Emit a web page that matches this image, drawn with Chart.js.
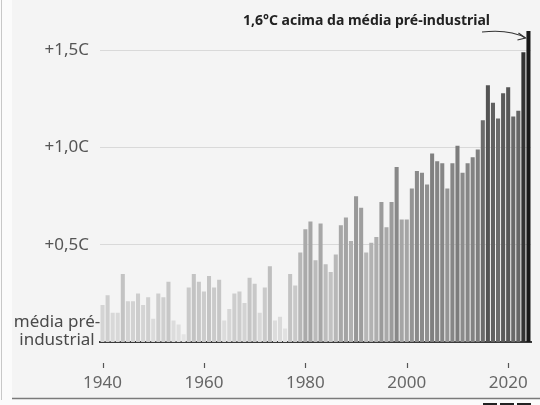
<!DOCTYPE html>
<html>
<head>
<meta charset="utf-8">
<script src="https://cdn.jsdelivr.net/npm/chart.js@4"></script>
<style>
  html, body { margin: 0; padding: 0; background: #fbfbfb; }
  canvas { display: block; }
</style>
</head>
<body>
<canvas id="tempChart" width="540" height="405"></canvas>
<script>
// =================== DATA ===================

const firstYear = 1940;
const lastYear = 2024;
const years = [];
for (let y = firstYear; y <= lastYear; y++) years.push(String(y));

// annual anomaly vs pre-industrial average (°C)
const anomalies = [
  0.19, 0.24, 0.15, 0.15, 0.35, 0.21, 0.21, 0.25, 0.19, 0.23, // 1940s
  0.12, 0.25, 0.23, 0.31, 0.11, 0.09, 0.04, 0.28, 0.35, 0.31, // 1950s
  0.26, 0.34, 0.28, 0.32, 0.11, 0.17, 0.25, 0.26, 0.20, 0.33, // 1960s
  0.30, 0.15, 0.28, 0.39, 0.11, 0.13, 0.07, 0.35, 0.29, 0.46, // 1970s
  0.58, 0.62, 0.42, 0.61, 0.40, 0.36, 0.45, 0.60, 0.64, 0.52, // 1980s
  0.75, 0.69, 0.46, 0.51, 0.54, 0.72, 0.59, 0.72, 0.90, 0.63, // 1990s
  0.63, 0.79, 0.88, 0.87, 0.81, 0.97, 0.93, 0.92, 0.79, 0.92, // 2000s
  1.01, 0.87, 0.92, 0.95, 0.99, 1.14, 1.32, 1.23, 1.15, 1.28, // 2010s
  1.31, 1.16, 1.19, 1.49, 1.60                                 // 2020s
];

const xTickLabels = ['1940', '1960', '1980', '2000', '2020'];
const yTickValues = [0.5, 1.0, 1.5];
const yTickLabels = ['+0,5C', '+1,0C', '+1,5C'];
const baselineLabel = ['média pré-', 'industrial'];
const annotationText = '1,6°C acima da média pré-industrial';

// =================== STYLE HELPERS ===================

// darker grey for warmer years
const greyStops = [[0, 232], [0.6, 168], [1.0, 125], [1.3, 88], [1.5, 50], [1.6, 25]];
function greyFor(v) {
  let g = greyStops[0][1];
  for (let i = 1; i < greyStops.length; i++) {
    const [v0, g0] = greyStops[i - 1];
    const [v1, g1] = greyStops[i];
    if (v >= v0) g = v >= v1 ? g1 : g0 + (g1 - g0) * (v - v0) / (v1 - v0);
  }
  g = Math.round(g);
  return `rgb(${g},${g},${g})`;
}

const FONT = '"Noto Sans", sans-serif';

// background panel, frame lines and logo blocks
const framePlugin = {
  id: 'frame',
  beforeDraw(chart) {
    const ctx = chart.ctx;
    ctx.save();
    ctx.fillStyle = '#f4f4f4';
    ctx.fillRect(12, 0, 528, 398);
    ctx.strokeStyle = '#c8c8c8';
    ctx.lineWidth = 1;
    ctx.beginPath();
    ctx.moveTo(1.5, 0);
    ctx.lineTo(1.5, 400);
    ctx.stroke();
    ctx.strokeStyle = '#7a7a7a';
    ctx.lineWidth = 1.5;
    ctx.beginPath();
    ctx.moveTo(12, 398.5);
    ctx.lineTo(540, 398.5);
    ctx.stroke();
    ctx.fillStyle = '#222';
    [483, 500, 517].forEach(x => ctx.fillRect(x, 403, 14, 2));
    ctx.restore();
  }
};

// tick marks, baseline caption, annotation with arrow
const extrasPlugin = {
  id: 'extras',
  afterDraw(chart) {
    const ctx = chart.ctx;
    const xs = chart.scales.x;
    const ys = chart.scales.y;
    ctx.save();

    ctx.strokeStyle = '#555';
    ctx.lineWidth = 1.2;
    xTickLabels.forEach(lbl => {
      const px = Math.round(xs.getPixelForValue(years.indexOf(lbl))) + 0.5;
      ctx.beginPath();
      ctx.moveTo(px, 363);
      ctx.lineTo(px, 368);
      ctx.stroke();
    });

    const y0 = ys.getPixelForValue(0);
    ctx.fillStyle = '#4a4a4a';
    ctx.font = '17px ' + FONT;
    ctx.textAlign = 'center';
    ctx.textBaseline = 'alphabetic';
    ctx.fillText(baselineLabel[0], 57, y0 - 15);
    ctx.fillText(baselineLabel[1], 57, y0 + 3);

    ctx.fillStyle = '#222';
    ctx.font = 'bold 14px ' + FONT;
    ctx.textAlign = 'left';
    ctx.fillText(annotationText, 243, 25);

    const last = anomalies.length - 1;
    const tipX = xs.getPixelForValue(last) - 3;
    const tipY = 38;
    ctx.strokeStyle = '#333';
    ctx.lineWidth = 1.2;
    ctx.beginPath();
    ctx.moveTo(482, 32);
    ctx.quadraticCurveTo(510, 29, tipX, tipY);
    ctx.stroke();
    ctx.beginPath();
    ctx.moveTo(tipX - 7, tipY - 5);
    ctx.lineTo(tipX, tipY);
    ctx.lineTo(tipX - 8, tipY + 2);
    ctx.stroke();
    ctx.restore();
  }
};

// =================== CHART ===================

new Chart(document.getElementById('tempChart'), {
  type: 'bar',
  data: {
    labels: years,
    datasets: [{
      data: anomalies,
      backgroundColor: anomalies.map(greyFor),
      borderWidth: 0,
      barPercentage: 0.8,
      categoryPercentage: 1.0
    }]
  },
  options: {
    responsive: false,
    animation: false,
    layout: { padding: { top: 15, right: 9, bottom: 0, left: 0 } },
    plugins: {
      legend: { display: false },
      tooltip: { enabled: false }
    },
    scales: {
      x: {
        grid: { display: false, drawTicks: false },
        border: { display: true, color: '#3a3a3a', width: 2 },
        ticks: {
          autoSkip: false,
          maxRotation: 0,
          padding: 31,
          color: '#666',
          font: { family: FONT, size: 17 },
          callback: function (value) {
            const lbl = this.getLabelForValue(value);
            return xTickLabels.includes(lbl) ? lbl : '';
          }
        },
        afterFit(scale) {
          scale.height = 63;
          scale.paddingLeft = 0;
          scale.paddingRight = 0;
        }
      },
      y: {
        min: 0,
        max: 1.65,
        grid: { color: '#d9d9d9', lineWidth: 1, drawTicks: false },
        border: { display: false },
        ticks: {
          padding: 11,
          color: '#555',
          font: { family: FONT, size: 17 },
          callback: value => {
            const i = yTickValues.indexOf(value);
            return i >= 0 ? yTickLabels[i] : '';
          }
        },
        afterBuildTicks(scale) {
          scale.ticks = yTickValues.map(v => ({ value: v }));
        },
        afterFit(scale) { scale.width = 100; }
      }
    }
  },
  plugins: [framePlugin, extrasPlugin]
});
</script>
</body>
</html>
